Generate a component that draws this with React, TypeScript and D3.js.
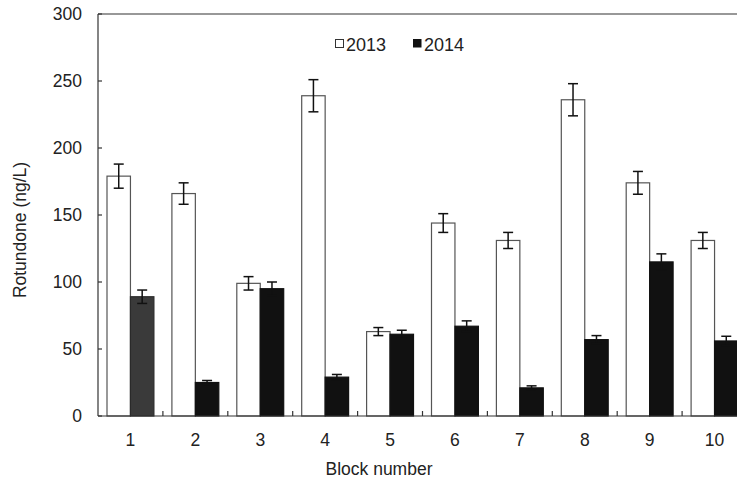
import React from "react";
import * as d3 from "d3";

const blocks = ["1", "2", "3", "4", "5", "6", "7", "8", "9", "10"];
const series = ["2013", "2014"];
const values2013 = [179, 166, 99, 239, 63, 144, 131, 236, 174, 131];
const errors2013 = [9, 8, 5, 12, 3, 7, 6, 12, 8.5, 6];
const values2014 = [89, 25, 95, 29, 61, 67, 21, 57, 115, 56];
const errors2014 = [5, 1.5, 5, 2, 3, 4, 1.5, 3, 6, 3.5];
const yTicks = [0, 50, 100, 150, 200, 250, 300];
const xTitle = "Block number";
const yTitle = "Rotundone (ng/L)";

const W = 737;
const H = 481;
const left = 98;
const top = 14;
const bottom = 416;
const bandW = 64.9;
const font = "'Liberation Sans', Arial, sans-serif";
const fs = 17.5;

export default function App() {
  const x = d3
    .scaleBand<string>()
    .domain(blocks)
    .range([left, left + bandW * blocks.length])
    .padding(0);
  const bw = x.bandwidth();
  const sub = d3.scaleBand<string>().domain(series).range([9, bw - 9]).padding(0);
  const y = d3.scaleLinear().domain([0, 300]).range([bottom, top]);
  const vals = [values2013, values2014];
  const errs = [errors2013, errors2014];
  const fills = ["#ffffff", "#111111"];
  const strokes = ["#555555", "#111111"];
  const right = left + bandW * blocks.length;

  return (
    <svg width={W} height={H} style={{ position: "absolute", left: 0, top: 0, background: "#fff" }}>
      <line x1={left} x2={right} y1={top} y2={top} stroke="#333" strokeWidth={1.2} />
      <line x1={right} x2={right} y1={top} y2={bottom} stroke="#333" strokeWidth={1.2} />
      {blocks.map((b, i) =>
        series.map((s, k) => {
          const v = vals[k][i];
          const e = errs[k][i];
          const bx = (x(b) as number) + (sub(s) as number);
          const w = sub.bandwidth();
          const cx = bx + w / 2;
          const fill = k === 1 && i === 0 ? "#3a3a3a" : fills[k];
          const st = k === 1 && i === 0 ? "#2a2a2a" : strokes[k];
          return (
            <g key={b + s}>
              <rect x={bx} y={y(v)} width={w} height={y(0) - y(v)} fill={fill} stroke={st} strokeWidth={1.2} />
              <line x1={cx} x2={cx} y1={y(v + e)} y2={y(v - e)} stroke="#111" strokeWidth={1.5} />
              <line x1={cx - 5} x2={cx + 5} y1={y(v + e)} y2={y(v + e)} stroke="#111" strokeWidth={1.5} />
              <line x1={cx - 5} x2={cx + 5} y1={y(v - e)} y2={y(v - e)} stroke="#111" strokeWidth={1.5} />
            </g>
          );
        })
      )}
      <line x1={left} x2={left} y1={top} y2={bottom} stroke="#333" strokeWidth={1.2} />
      <line x1={left} x2={right} y1={bottom} y2={bottom} stroke="#333" strokeWidth={1.2} />
      {yTicks.map((t) => (
        <g key={t}>
          <line x1={left} x2={left + 4} y1={y(t)} y2={y(t)} stroke="#333" strokeWidth={1.2} />
          <text x={82} y={y(t)} dy="0.36em" textAnchor="end" fontFamily={font} fontSize={fs} fill="#222">
            {t}
          </text>
        </g>
      ))}
      {blocks.map((b, i) => (
        <g key={"xt" + b}>
          {i > 0 && (
            <line x1={x(b) as number} x2={x(b) as number} y1={bottom} y2={bottom - 5} stroke="#333" strokeWidth={1.2} />
          )}
          <text x={(x(b) as number) + bw / 2} y={446} textAnchor="middle" fontFamily={font} fontSize={fs} fill="#222">
            {b}
          </text>
        </g>
      ))}
      <text x={379} y={475} textAnchor="middle" fontFamily={font} fontSize={fs} fill="#222">
        {xTitle}
      </text>
      <text
        transform={`translate(26, 230) rotate(-90)`}
        textAnchor="middle"
        fontFamily={font}
        fontSize={fs}
        fill="#222"
      >
        {yTitle}
      </text>
      <rect x={335.5} y={39.5} width={8} height={8} fill="#fff" stroke="#333" strokeWidth={1} />
      <text x={346} y={51} fontFamily={font} fontSize={18} fill="#222">
        {series[0]}
      </text>
      <rect x={413} y={39} width={8.5} height={8.5} fill="#111" />
      <text x={424} y={51} fontFamily={font} fontSize={18} fill="#222">
        {series[1]}
      </text>
    </svg>
  );
}
